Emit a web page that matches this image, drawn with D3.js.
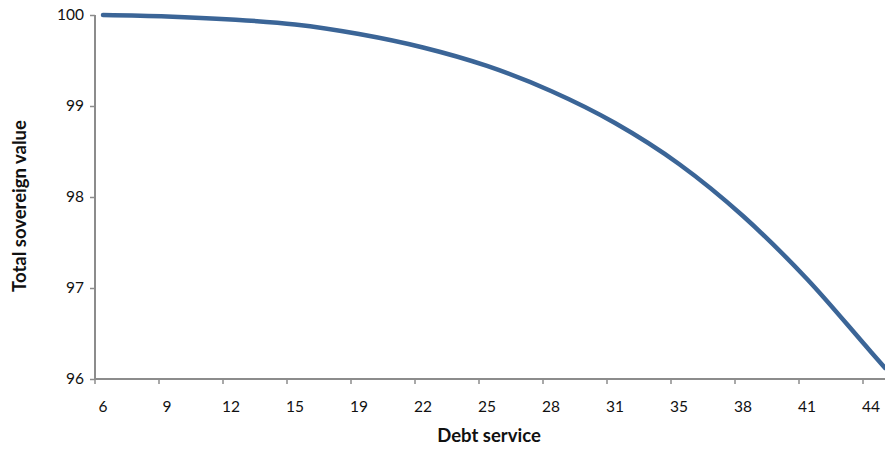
<!DOCTYPE html>
<html>
<head>
<meta charset="utf-8">
<script src="https://cdn.jsdelivr.net/npm/d3@7"></script>
<style>
  html, body { margin: 0; padding: 0; background: #fff; }
  svg { display: block; }
  text { font-family: Lato, "Open Sans", sans-serif; fill: #111; }
</style>
</head>
<body>
<svg id="chart" width="885" height="450"></svg>
<script>
// Category labels shown on the x axis (debt service)
const xLabels = [6, 9, 12, 15, 19, 22, 25, 28, 31, 35, 38, 41, 44];
// Debt service values of the plotted points (last point is where the curve leaves the frame)
const debtService = [6, 9, 12, 15, 19, 22, 25, 28, 31, 35, 38, 41, 44, 44.66];
// Total sovereign value at each point
const sovereignValue = [100.0, 99.984, 99.951, 99.896, 99.791, 99.643, 99.44, 99.165, 98.813, 98.363, 97.791, 97.099, 96.297, 96.121];
// Y tick labels
const yTicks = [96, 97, 98, 99, 100];

const svg = d3.select("#chart");
const W = 885, H = 450;
const plotTop = 15, plotBottom = 379;
const firstCat = 103, labelStep = 64;

// piecewise-linear category scale: each label one step apart
const x = d3.scaleLinear()
  .domain(xLabels)
  .range(xLabels.map((d, i) => firstCat + i * labelStep));
const half = (x(xLabels[1]) - x(xLabels[0])) / 8;
const axisLeft = x(xLabels[0]) - half;

const y = d3.scaleLinear().domain([96, 100]).range([plotBottom, plotTop]);

const axisColor = "#8c8c8c";

// Y axis
const gy = svg.append("g").attr("transform", `translate(${axisLeft},0)`)
  .call(d3.axisLeft(y).tickValues(yTicks).tickSize(5).tickPadding(6).tickFormat(d3.format("d")));
gy.select(".domain").attr("stroke", axisColor).attr("stroke-width", 2).attr("d", `M0,${plotTop}V${plotBottom}`);
gy.selectAll(".tick line").attr("stroke", axisColor).attr("stroke-width", 1.5);
gy.selectAll(".tick text").style("font-size", "15.5px").style("font-family", "Lato, sans-serif").attr("fill", "#111");

// X axis line and tick marks (between categories)
const gx = svg.append("g").attr("transform", `translate(0,${plotBottom})`);
gx.append("line").attr("x1", axisLeft).attr("x2", W + 5).attr("y1", 0).attr("y2", 0)
  .attr("stroke", axisColor).attr("stroke-width", 2);
gx.selectAll("line.tk").data(xLabels).join("line").attr("class", "tk")
  .attr("x1", d => x(d) - half).attr("x2", d => x(d) - half)
  .attr("y1", 0).attr("y2", 5).attr("stroke", axisColor).attr("stroke-width", 1.5);
gx.selectAll("text.tl").data(xLabels).join("text").attr("class", "tl")
  .attr("x", d => x(d)).attr("y", 33).attr("text-anchor", "middle")
  .style("font-size", "15.5px").text(d => d);

// Line
const pts = debtService.map((d, i) => [d, sovereignValue[i]]);
svg.append("defs").append("clipPath").attr("id", "clip")
  .append("rect").attr("x", axisLeft).attr("y", 0).attr("width", W - axisLeft).attr("height", plotBottom + 5);
svg.append("path").datum(pts)
  .attr("clip-path", "url(#clip)")
  .attr("fill", "none").attr("stroke", "#3b6597").attr("stroke-width", 4.5)
  .attr("stroke-linecap", "round")
  .attr("d", d3.line().x(d => x(d[0])).y(d => y(d[1])).curve(d3.curveMonotoneX));

// Axis titles
svg.append("text").attr("x", 489).attr("y", 442).attr("text-anchor", "middle")
  .style("font-size", "18.5px").style("font-weight", "bold").text("Debt service");
svg.append("text").attr("transform", `translate(26,${(plotTop + plotBottom) / 2 + 9}) rotate(-90)`)
  .attr("text-anchor", "middle")
  .style("font-size", "18.5px").style("font-weight", "bold").text("Total sovereign value");
</script>
</body>
</html>
